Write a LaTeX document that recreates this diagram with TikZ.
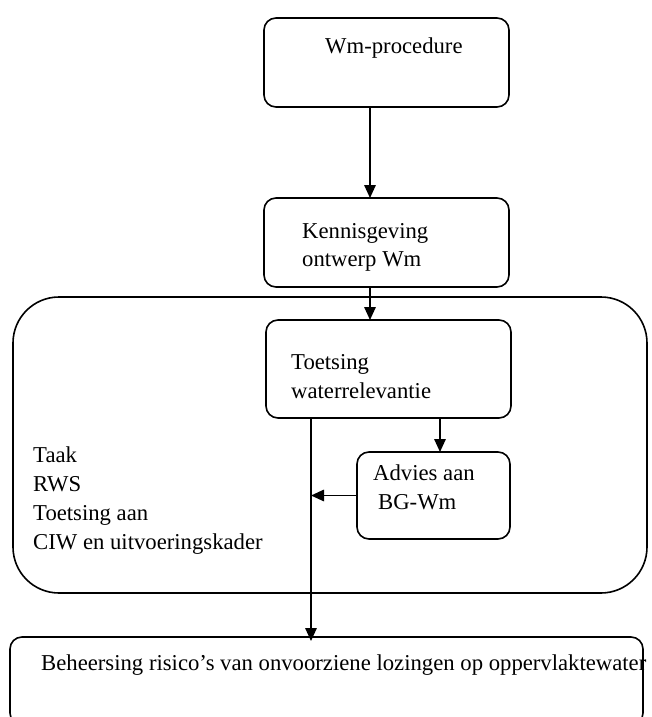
\documentclass[tikz,border=0pt]{standalone}
\usepackage{fontspec}
\setmainfont{Liberation Serif}
\usetikzlibrary{arrows.meta}
\begin{document}
\begin{tikzpicture}[x=1pt,y=-1pt,
  box/.style={draw, line width=1.6pt, rounded corners=12pt, outer sep=0pt, inner sep=0pt},
  lbl/.style={anchor=base west, inner sep=0pt,
    font=\fontsize{22.7}{29}\selectfont},
  arr/.style={line width=1.6pt, -{Triangle[length=13pt,width=11.5pt]}}]
\useasboundingbox (0,0) rectangle (651,717);
\clip (0,0) rectangle (651,717);

% outer frame around the RWS task
\node[box, rounded corners=46pt, minimum width=634, minimum height=296] (task) at (330,445) {};

% process boxes
\node[box, minimum width=245, minimum height=89] (wm) at (386.5,62.5) {};
\node[box, minimum width=245, minimum height=89] (kg) at (386.5,242.5) {};
\node[box, minimum width=245, minimum height=98] (toets) at (388.5,369) {};
\node[box, minimum width=153, minimum height=87] (advies) at (433.5,495.5) {};
\node[box, minimum width=633, minimum height=88] (beh) at (326.5,681) {};

% labels, one node per printed line
\node[lbl] (twm) at (325,53) {Wm-procedure};
\node[lbl] (tkg1) at (302,238) {Kennisgeving};
\node[lbl] (tkg2) at (302,266) {ontwerp Wm};
\node[lbl] (tto1) at (291,369) {Toetsing};
\node[lbl] (tto2) at (291,398) {waterrelevantie};
\node[lbl] (tad1) at (373,480) {Advies aan};
\node[lbl] (tad2) at (378,509) {BG-Wm};
\node[lbl] (tta1) at (33,462) {Taak};
\node[lbl] (tta2) at (33,491) {RWS};
\node[lbl] (tta3) at (33,520) {Toetsing aan};
\node[lbl] (tta4) at (33,549) {CIW en uitvoeringskader};
\node[lbl] (tbeh) at (41,670) {Beheersing risico’s van onvoorziene lozingen op oppervlaktewater};

% connector columns
\coordinate (c1) at (370,0);
\coordinate (c2) at (311,0);
\coordinate (c3) at (440,0);

% connectors
\draw[arr] (wm.south -| c1) -- (kg.north -| c1);
\draw[arr] (kg.south -| c1) -- (toets.north -| c1);
\draw[arr] (toets.south -| c3) -- (advies.north -| c3);
\draw[arr] (advies.west) -- (advies.west -| c2);
\draw[arr] (toets.south -| c2) -- ([yshift=-4pt]beh.north -| c2);
\end{tikzpicture}
\end{document}
